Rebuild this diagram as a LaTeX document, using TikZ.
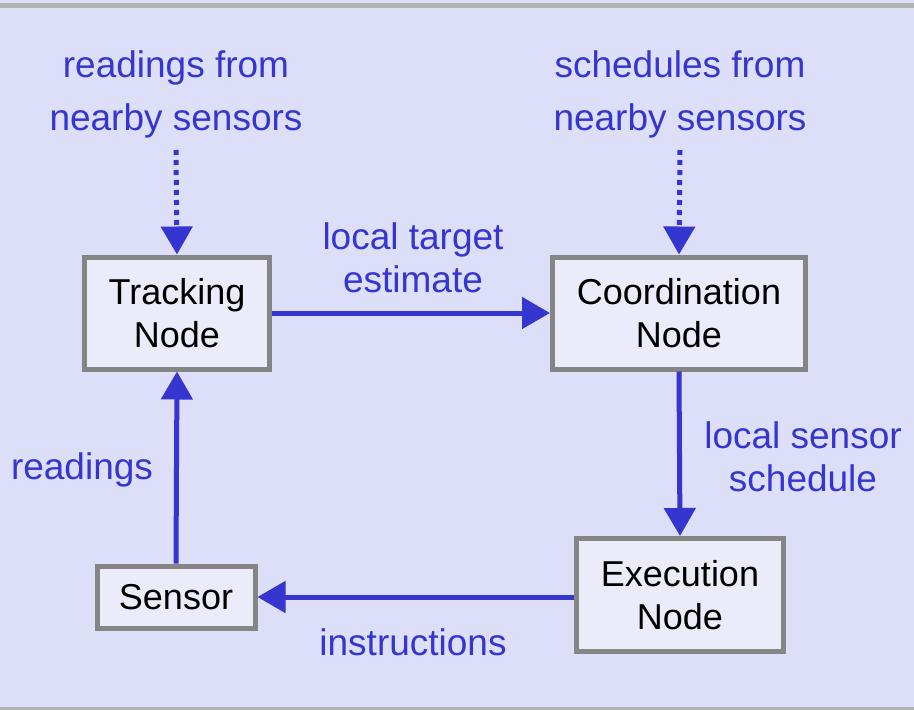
\documentclass[tikz,border=0pt]{standalone}
\usepackage{fontspec}
\setmainfont{Liberation Sans}
\usetikzlibrary{arrows.meta,positioning}
\definecolor{bgblue}{HTML}{DDDEF8}
\definecolor{boxfill}{HTML}{EBEBF9}
\definecolor{boxline}{HTML}{858585}
\definecolor{linkblue}{HTML}{3535CF}
\definecolor{topgray}{HTML}{B4B4B4}

\begin{document}
\begin{tikzpicture}[
	x=1pt,y=-1pt,
	mybox/.style={
		rectangle,
		draw=boxline,
		fill=boxfill,
		line width=5pt,
		inner sep=0pt,
		align=center,
		font=\fontsize{36}{43}\selectfont},
	mylabel/.style={
		text=linkblue,
		align=center,
		inner sep=0pt,
		font=\fontsize{37}{43}\selectfont},
	myarrow/.style={draw=linkblue,line width=5pt,
		-{Triangle[length=28pt,width=31pt]}},
	mydots/.style={myarrow,dash pattern=on 5pt off 5pt}
	]
	\useasboundingbox (0,0) rectangle (914,710);
	\fill[bgblue] (0,0) rectangle (914,710);
	\fill[topgray] (0,3) rectangle (914,8);
	\fill[topgray] (0,707) rectangle (914,710);

	\node[mybox,minimum width=185pt,minimum height=112pt] (track) at (177,313) {Tracking\\Node};
	\node[mybox,minimum width=253pt,minimum height=112pt] (coord) at (679,313) {Coordination\\Node};
	\node[mybox,minimum width=207pt,minimum height=113pt] (exec) at (680,595) {Execution\\Node};
	\node[mybox,minimum width=158pt,minimum height=62pt] (sensor) at (176,597) {Sensor};

	% the two top labels are set with wider line spacing
	\node[mylabel] (fromread) at (176,94) {readings from\\[10pt]nearby sensors};
	\node[mylabel] (fromsched) at (680,94) {schedules from\\[10pt]nearby sensors};
	\node[mylabel] (estlabel) at (413,258) {local target\\estimate};
	\node[mylabel] (schedlabel) at (803,457) {local sensor\\schedule};
	\node[mylabel] (readlabel) at (82,470) {readings};
	\node[mylabel] (instrlabel) at (413,642) {instructions};

	\coordinate (dotA) at (176,150);
	\coordinate (dotB) at (680,150);

	\draw[mydots] (dotA) -- (track.north);
	\draw[mydots] (dotB) -- (coord.north);

	\foreach \i/\j in {% start node/end node
		track.east/coord.west,
		coord.south/exec.north,
		sensor.north/track.south}
		\draw[myarrow] (\i) -- (\j);
	\draw[myarrow] (exec.west |- sensor.east) -- (sensor.east);
\end{tikzpicture}
\end{document}
